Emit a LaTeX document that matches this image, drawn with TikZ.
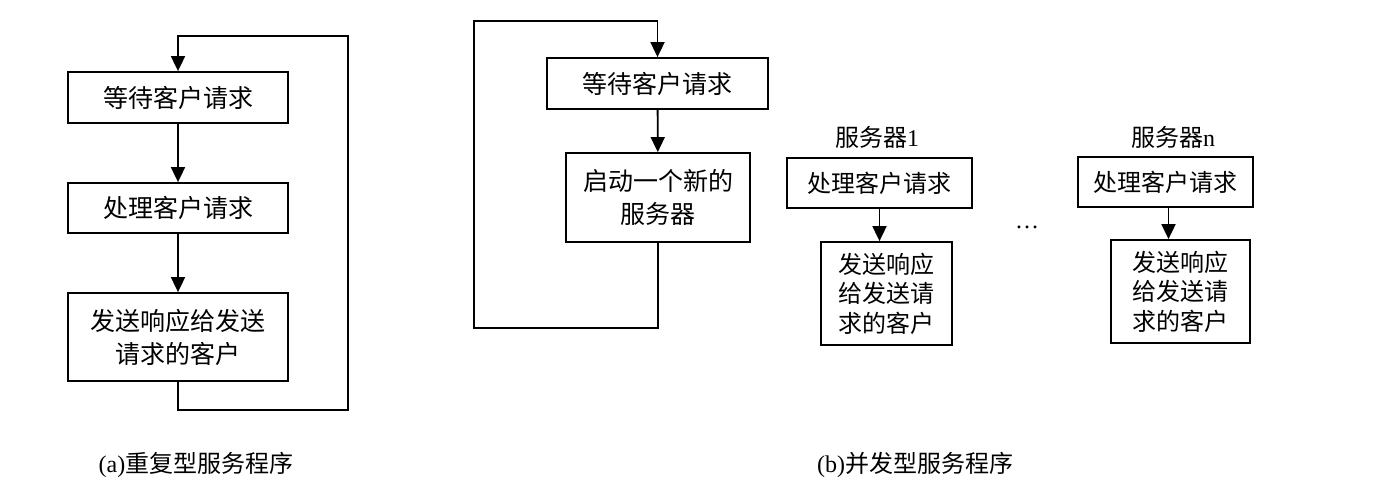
\documentclass[tikz,border=0pt]{standalone}
\usepackage{fontspec}
\setmainfont{Liberation Serif}
\newfontfamily\cjk{Noto Sans CJK SC}
\usetikzlibrary{arrows.meta}
\begin{document}
\begin{tikzpicture}[x=1pt,y=-1pt,
  box/.style={draw,line width=1.8pt,rectangle,inner sep=0pt,align=center,
    font=\cjk\fontsize{25}{33}\selectfont},
  sbox/.style={box,font=\cjk\fontsize{24}{29.5}\selectfont},
  lbl/.style={inner sep=0pt,font=\fontsize{24}{28}\selectfont},
  conn/.style={line width=1.8pt},
  arr/.style={conn,-{Triangle[length=15pt,width=14pt]}}]
\useasboundingbox (0,0) rectangle (1378,499);
% (a)
\node[box,minimum width=220pt,minimum height=51pt] (b1) at (178,97.5) {等待客户请求};
\node[box,minimum width=220pt,minimum height=50pt] (b2) at (178,208) {处理客户请求};
\node[box,minimum width=220pt,minimum height=88pt] (b3) at (178,337) {发送响应给发送\\请求的客户};
\coordinate (la) at (348,410);
\coordinate (lb) at (348,36);
\draw[arr] (b1) -- (b2);
\draw[arr] (b2) -- (b3);
\draw[arr] (b3.south) |- (la) -- (lb) -| (b1.north);
\node[lbl] (capa) at (196,465) {(a){\cjk 重复型服务程序}};
% (b)
\node[box,minimum width=221pt,minimum height=51pt] (a) at (657.5,83.5) {等待客户请求};
\node[box,minimum width=184pt,minimum height=89pt] (bb) at (658,197.5) {启动一个新的\\服务器};
\coordinate (ra) at (474,328);
\coordinate (rb) at (474,21);
\draw[arr] (a) -- (bb);
\draw[arr] (bb.south) |- (ra) -- (rb) -| (a.north);
% server 1
\node[lbl] (s1) at (877,137) {{\cjk 服务器}1};
\node[sbox,minimum width=185pt,minimum height=50pt] (c1) at (879.5,183) {处理客户请求};
\node[sbox,minimum width=131pt,minimum height=103pt] (d1) at (886.5,293.5) {发送响应\\给发送请\\求的客户};
\draw[arr] (c1.south) -- (c1.south |- d1.north);
\node[lbl] (dots) at (1027,227) {\ldots};
% server n
\node[lbl] (sn) at (1173,137) {{\cjk 服务器}n};
\node[sbox,minimum width=175pt,minimum height=50pt] (cn) at (1165.5,182) {处理客户请求};
\node[sbox,minimum width=139pt,minimum height=103pt] (dn) at (1180.5,291.5) {发送响应\\给发送请\\求的客户};
\draw[arr] ([xshift=3pt]cn.south) -- ([xshift=3pt]cn.south |- dn.north);
\node[lbl] (capb) at (915,465) {(b){\cjk 并发型服务程序}};
\end{tikzpicture}
\end{document}
